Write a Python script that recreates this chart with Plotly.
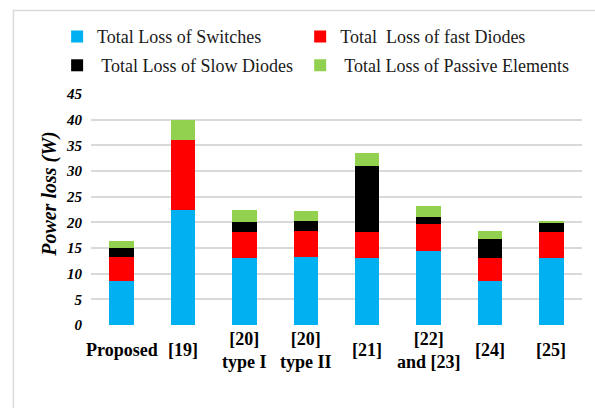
import plotly.graph_objects as go

# Converter designs compared
categories = ["Proposed", "[19]", "[20]<br>type I", "[20]<br>type II",
              "[21]", "[22]<br>and [23]", "[24]", "[25]"]

# Loss components (W)
switch_loss = [8.6, 22.5, 13.1, 13.2, 13.0, 14.4, 8.5, 13.0]
fast_diode_loss = [4.6, 13.5, 5.1, 5.2, 5.2, 5.2, 4.6, 5.2]
slow_diode_loss = [1.8, 0.0, 1.9, 1.9, 12.7, 1.5, 3.7, 1.8]
passive_loss = [1.3, 3.9, 2.3, 2.0, 2.7, 2.0, 1.5, 0.2]

y_ticks = list(range(0, 50, 5))

# name, values, colour, legend id, legend position (paper x, paper y)
series = [
    ("Total Loss of Switches", switch_loss, "#00B0F0", "legend", (-0.069, 1.248)),
    ("Total  Loss of fast Diodes", fast_diode_loss, "#FF0000", "legend2", (0.426, 1.248)),
    (" Total Loss of Slow Diodes", slow_diode_loss, "#000000", "legend3", (-0.069, 1.123)),
    (" Total Loss of Passive Elements", passive_loss, "#92D050", "legend4", (0.426, 1.123)),
]

serif = "Liberation Serif"

fig = go.Figure()
x_idx = list(range(len(categories)))
for name, vals, color, leg, _ in series:
    fig.add_trace(go.Bar(
        x=x_idx, y=vals, name=name, legend=leg,
        marker=dict(color=color, line=dict(width=0)),
    ))

# Category labels, vertically centred under each bar
for i, lab in enumerate(categories):
    fig.add_annotation(
        x=i, y=0, xref="x", yref="paper", yanchor="middle", xanchor="center",
        yshift=-25, text="<b>" + lab + "</b>", showarrow=False,
        font=dict(family=serif, size=18, color="#000000"),
    )

# Y-axis title, placed slightly above the plot-area centre
fig.add_annotation(
    x=0, y=0.5635, xref="paper", yref="paper", xanchor="center",
    yanchor="middle", xshift=-41, textangle=-90, showarrow=False,
    text="<b><i>Power loss (W)</i></b>",
    font=dict(family=serif, size=20, color="#000000"),
)

legend_common = dict(
    orientation="h", xanchor="left", yanchor="middle",
    font=dict(family=serif, size=18, color="#1a1a1a"),
    bgcolor="rgba(0,0,0,0)", itemclick=False,
)
legends = {leg: dict(x=pos[0], y=pos[1], **legend_common)
           for _, _, _, leg, pos in series}

fig.update_layout(
    width=595, height=408,
    margin=dict(l=91, r=13, t=94, b=83),
    barmode="stack", bargap=0.6,
    plot_bgcolor="white", paper_bgcolor="white",
    font=dict(family=serif),
    xaxis=dict(range=[-0.5, len(categories) - 0.5], showticklabels=False,
               showgrid=False, zeroline=False, showline=False, ticks=""),
    yaxis=dict(range=[0, 45], tickvals=y_ticks, showgrid=True,
               gridcolor="#d9d9d9", gridwidth=1.5, zeroline=False,
               showline=False, ticks="", ticklabelstandoff=8,
               tickfont=dict(family=serif, size=15, weight="bold",
                             style="italic", color="#000000")),
    shapes=[dict(type="rect", xref="paper", yref="paper",
                 x0=-0.158, y0=-0.4, x1=1.05, y1=1.361,
                 line=dict(color="#d9d9d9", width=1.5),
                 fillcolor="rgba(0,0,0,0)", layer="below")],
    showlegend=True,
    **legends,
)

fig.write_html("out.html")
